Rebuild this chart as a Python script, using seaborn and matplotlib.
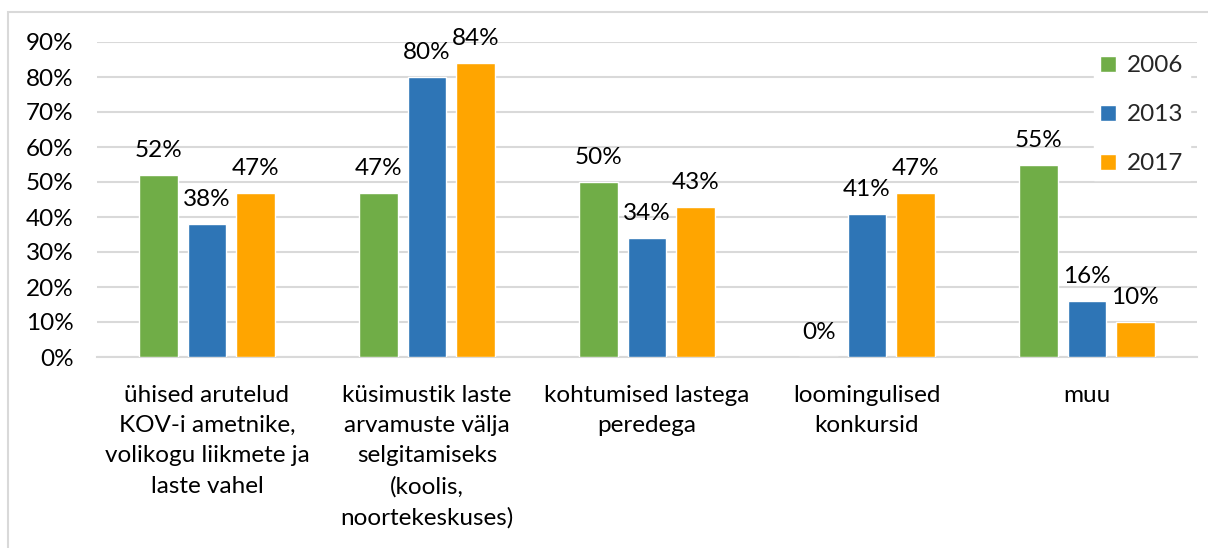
import numpy as np
import pandas as pd
import matplotlib.pyplot as plt
import seaborn as sns
from matplotlib.patches import Rectangle

# data
categories = [
    "ühised arutelud\nKOV-i ametnike,\nvolikogu liikmete ja\nlaste vahel",
    "küsimustik laste\narvamuste välja\nselgitamiseks\n(koolis,\nnoortekeskuses)",
    "kohtumised lastega\nperedega",
    "loomingulised\nkonkursid",
    "muu",
]
years = ["2006", "2013", "2017"]
vals_2006 = [52, 47, 50, 0, 55]
vals_2013 = [38, 80, 34, 41, 16]
vals_2017 = [47, 84, 43, 47, 10]
colors = ["#70AD47", "#2E75B6", "#FFA500"]

df = pd.DataFrame({
    "cat": categories * 3,
    "year": [years[0]] * 5 + [years[1]] * 5 + [years[2]] * 5,
    "val": vals_2006 + vals_2013 + vals_2017,
})

sns.set_theme(style="white")
plt.rcParams["font.family"] = ["Lato", "DejaVu Sans"]
fs = 17.5

fig = plt.figure(figsize=(12.08, 5.48), dpi=100)
ax = fig.add_axes([97 / 1208, 1 - 357 / 548, 1100 / 1208, 315 / 548])

sns.barplot(data=df, x="cat", y="val", hue="year", palette=colors,
            width=0.66, gap=0.21, saturation=1, ax=ax, zorder=3)

ax.set_ylim(0, 90)
ax.set_yticks(range(0, 91, 10))
ax.set_yticklabels([f"{t}%" for t in range(0, 91, 10)], fontsize=fs, color="black")
ax.grid(axis="y", color="#D9D9D9", linewidth=1.5, zorder=0)
ax.set_axisbelow(True)
ax.tick_params(axis="y", length=0, pad=17)
ax.tick_params(axis="x", length=0, pad=20, labelsize=fs, labelcolor="black")
for t in ax.get_xticklabels():
    t.set_linespacing(1.55)
ax.set_xlabel("")
ax.set_ylabel("")
for s in ["top", "right", "left"]:
    ax.spines[s].set_visible(False)
ax.spines["bottom"].set_color("#D9D9D9")
ax.spines["bottom"].set_linewidth(1.5)

for cont in ax.containers:
    ax.bar_label(cont, labels=[f"{v:.0f}%" for v in cont.datavalues],
                 padding=10, fontsize=fs, color="black")

leg = ax.legend(loc="upper right", bbox_to_anchor=(1.0, 1.0), fontsize=fs,
                frameon=True, facecolor="white", edgecolor="white", framealpha=1,
                handlelength=0.65, handleheight=0.65, handletextpad=0.45,
                labelspacing=1.15, borderpad=0.25, borderaxespad=0.3, fancybox=False)
leg.set_zorder(5)

fig.patches.append(Rectangle((8 / 1208, -0.1), 1.2, 1.1 - 12 / 548,
                             transform=fig.transFigure, fill=False,
                             edgecolor="#D9D9D9", linewidth=1.5))

fig.savefig("out.png", dpi=100)
